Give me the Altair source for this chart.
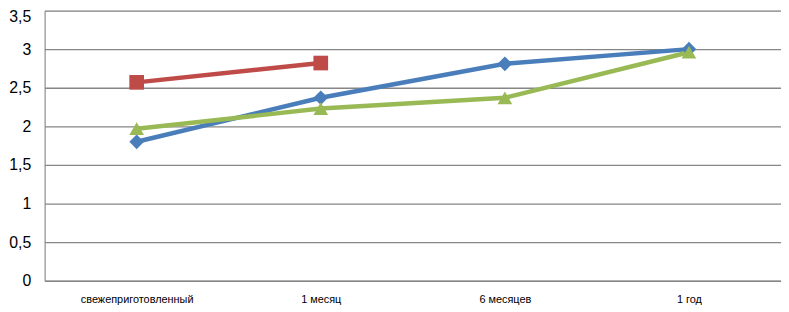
import altair as alt
import pandas as pd

categories = ["свежеприготовленный", "1 месяц", "6 месяцев", "1 год"]
series_blue = [1.80, 2.37, 2.81, 3.00]
series_red = [2.57, 2.82]
series_green = [1.97, 2.23, 2.37, 2.96]

rows = []
for name, vals in [("Ряд1", series_blue), ("Ряд2", series_red), ("Ряд3", series_green)]:
    for c, v in zip(categories, vals):
        rows.append({"cat": c, "val": v, "series": name})
df = pd.DataFrame(rows)

color_scale = alt.Scale(domain=["Ряд1", "Ряд2", "Ряд3"], range=["#4A7EBB", "#BE4B48", "#98B954"])
shape_scale = alt.Scale(domain=["Ряд1", "Ряд2", "Ряд3"], range=["diamond", "square", "triangle-up"])

x = alt.X("cat:N", sort=categories, scale=alt.Scale(paddingInner=0, paddingOuter=0),
          axis=alt.Axis(title=None, labelAngle=0, ticks=False, grid=False, domainColor="#868686",
                        labelFont="Liberation Sans", labelFontSize=11, labelColor="#000000",
                        labelPadding=13))
y = alt.Y("val:Q", scale=alt.Scale(domain=[0, 3.5], nice=False),
          axis=alt.Axis(title=None, values=[0, 0.5, 1, 1.5, 2, 2.5, 3, 3.5], ticks=False,
                        gridColor="#868686", gridWidth=1.3, domainColor="#868686",
                        labelFont="Liberation Sans", labelFontSize=16, labelColor="#000000",
                        labelPadding=14,
                        labelOffset=alt.expr("datum.value == 3.5 ? 6 : 0"),
                        labelExpr="replace(toString(datum.value), '.', ',')"))

base = alt.Chart(df)
lines = base.mark_line(strokeWidth=4.5).encode(
    x=x, y=y, color=alt.Color("series:N", scale=color_scale, legend=None), detail="series:N")
points = base.mark_point(filled=True, opacity=1, size=220).encode(
    x=x, y=y,
    color=alt.Color("series:N", scale=color_scale, legend=None),
    shape=alt.Shape("series:N", scale=shape_scale, legend=None))

chart = (lines + points).properties(
    width=744, height=273,
    autosize=alt.AutoSizeParams(type="none"),
    padding={"left": 37, "top": 1, "right": 0, "bottom": 30},
).configure_view(stroke=None).configure(background="white")

chart.save("out.html", embed_options={"renderer": "svg", "actions": False})
